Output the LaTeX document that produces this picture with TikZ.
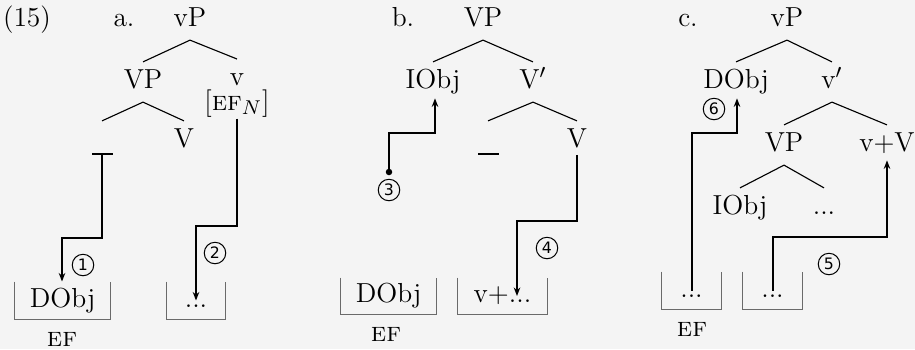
\documentclass[tikz,border=0pt]{standalone}
\usepackage{fontspec}
\newfontfamily\circfont{DejaVu Sans}
\usetikzlibrary{arrows.meta}
\definecolor{bgc}{HTML}{F4F4F4}
\definecolor{boxc}{HTML}{6A6A6A}
\begin{document}
\begin{tikzpicture}[x=0.4pt,y=-0.4pt,
  every node/.style={font=\fontsize{11}{13}\selectfont},
  lab/.style={inner xsep=1pt, inner ysep=3pt, text height=7.5pt, text depth=2.2pt},
  tl/.style={line width=0.45pt},
  conn/.style={line width=0.8pt, -{Stealth[length=3.4pt,width=2.6pt]}},
  bin/.style={inner sep=0pt, text height=7.5pt, text depth=2.2pt, minimum height=14.8pt},
  binline/.style={draw=boxc, line width=0.55pt},
  num/.style={circle, draw, line width=0.4pt, inner sep=0pt, minimum size=8.6pt,
              font=\circfont\fontsize{6.3}{7}\selectfont},
  bar/.style={inner sep=0pt, minimum width=8.4pt, minimum height=0.7pt, fill=black},
]
\fill[bgc] (0,0) rectangle (915,349);
\useasboundingbox (0,0) rectangle (915,349);

% ---------- labels ----------
\node[lab] (ex) at (27,20) {(15)};
\node[lab] (la) at (124,20) {a.};
\node[lab] (lb) at (403,20) {b.};
\node[lab] (lc) at (688,20) {c.};

% ---------- tree a ----------
\node[lab] (vPa) at (190,20) {vP};
\node[lab] (VPa) at (143,82) {VP};
\node[inner xsep=1pt, inner ysep=0pt, text height=10.2pt, text depth=12.5pt, anchor=base] (va) at (237,85)
  {\begin{tabular}[t]{@{}c@{}}v\\[-2.7pt]{[}\textsc{ef}$_N${]}\end{tabular}};
\node[lab] (Va) at (184,141) {V};
\node[bar] (tr1) at (102,154) {};
\draw[tl] (VPa.north) -- (vPa.south) -- (va.north);
\draw[tl] (tr1 |- Va.north) -- (VPa.south) -- (Va.north);

% boxes a
\node[bin, minimum width=38pt] (B1) at (62.5,300.5) {DObj};
\node[bin, minimum width=23.2pt] (B2) at (196,300.5) {...};
\draw[binline] (B1.north west) |- (B1.south east) -- (B1.north east);
\draw[binline] (B2.north west) |- (B2.south east) -- (B2.north east);
\node[lab] (ef1) at (62,340) {\textsc{ef}};

% connectors a
\coordinate (k1) at (62,238);
\coordinate (k2) at (196,226);
\draw[conn] (tr1.south) |- (k1) -- (k1 |- B1.north);
\draw[conn, shorten <=0.7pt] (va.south) |- (k2) -- (k2 |- B2.center);
\node[num] (n1) at (83,265) {1};
\node[num] (n2) at (215,253) {2};

% ---------- tree b ----------
\node[lab] (VPb) at (483,20) {VP};
\node[lab] (IOb) at (433,82) {IObj};
\node[lab] (Vpr) at (533,82) {V$'$};
\node[lab] (Vb) at (577,141) {V};
\node[bar] (tr2) at (488,154) {};
\draw[tl] (IOb.north) -- (VPb.south) -- (Vpr.north);
\draw[tl] (tr2 |- Vb.north) -- (Vpr.south) -- (Vb.north);

% boxes b
\node[bin, minimum width=38pt, minimum height=14.4pt] (B3) at (388.5,296) {DObj};
\node[bin, minimum width=35.6pt, minimum height=14.4pt] (B4) at (502.5,296) {v+...};
\draw[binline] (B3.north west) |- (B3.south east) -- (B3.north east);
\draw[binline] (B4.north west) |- (B4.south east) -- (B4.north east);
\node[lab] (ef2) at (386,335) {\textsc{ef}};

% connectors b
\node[circle, fill=black, inner sep=0pt, minimum size=2.6pt] (d3) at (389,172) {};
\coordinate (k3) at (435,133);
\coordinate (k4) at (517,221);
\draw[conn, shorten >=-1.5pt] (d3.center) |- (k3) -- (k3 |- IOb.south);
\draw[conn, shorten <=-2.5pt] (Vb.south) |- (k4) -- (k4 |- B4.center);
\node[num] (n3) at (389,190) {3};
\node[num] (n4) at (547,248) {4};

% ---------- tree c ----------
\node[lab] (vPc) at (787,20) {vP};
\node[lab] (DOc) at (736,82) {DObj};
\node[lab] (vpc) at (832,82) {v$'$};
\node[lab] (VPc) at (784,145) {VP};
\node[lab] (vV) at (887,145) {v+V};
\node[lab] (IOc) at (740,208) {IObj};
\node[lab] (dtc) at (824,208) {...};
\draw[tl] (DOc.north) -- (vPc.south) -- (vpc.north);
\draw[tl] (VPc.north) -- (vpc.south) -- (vV.north);
\draw[tl] (IOc.north) -- (VPc.south) -- (dtc.north);

% boxes c
\node[bin, minimum width=23.6pt] (C1) at (691.5,290.5) {...};
\node[bin, minimum width=23.6pt] (C2) at (772.5,290.5) {...};
\draw[binline] (C1.north west) |- (C1.south east) -- (C1.north east);
\draw[binline] (C2.north west) |- (C2.south east) -- (C2.north east);
\node[lab] (ef3) at (692,330) {\textsc{ef}};

% connectors c
\coordinate (k5) at (887,237);
\coordinate (k6) at (737,133);
\draw[conn, shorten >=-1.9pt] (C2.center) |- (k5) -- (k5 |- vV.south);
\draw[conn, shorten >=-1.5pt] (C1.center) |- (k6) -- (k6 |- DOc.south);
\node[num] (n5) at (829,264) {5};
\node[num] (n6) at (714,109) {6};
\end{tikzpicture}
\end{document}
